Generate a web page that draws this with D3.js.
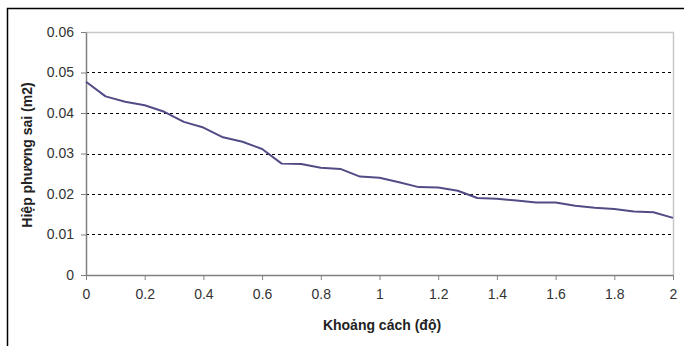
<!DOCTYPE html>
<html>
<head>
<meta charset="utf-8">
<script src="https://cdn.jsdelivr.net/npm/d3@7"></script>
<style>
  body { margin: 0; background: #fff; }
  svg { display: block; font-family: "Liberation Sans", Arial, sans-serif; }
</style>
</head>
<body>
<svg id="chart" width="684" height="346"></svg>
<script>
// data
var distances = [0, 0.0667, 0.1333, 0.2, 0.2667, 0.3333, 0.4, 0.4667, 0.5333, 0.6,
                 0.6667, 0.7333, 0.8, 0.8667, 0.9333, 1.0, 1.0667, 1.1333, 1.2, 1.2667,
                 1.3333, 1.4, 1.4667, 1.5333, 1.6, 1.6667, 1.7333, 1.8, 1.8667, 1.9333, 2.0];
var covariance = [0.0477, 0.0441, 0.0428, 0.0419, 0.0403, 0.0378, 0.0364, 0.0340, 0.0329, 0.0311,
                  0.0275, 0.0274, 0.0265, 0.0262, 0.0243, 0.0240, 0.0229, 0.0217, 0.0216, 0.0208,
                  0.0190, 0.0188, 0.0184, 0.0179, 0.0179, 0.0171, 0.0166, 0.0163, 0.0157, 0.0155, 0.0141];
var xTicks = [0, 0.2, 0.4, 0.6, 0.8, 1, 1.2, 1.4, 1.6, 1.8, 2];
var yTicks = [0, 0.01, 0.02, 0.03, 0.04, 0.05, 0.06];
var xTitle = "Khoảng cách (độ)";
var yTitle = "Hiệp phương sai (m2)";

var svg = d3.select("#chart"),
    margin = {top: 32, right: 11, bottom: 71, left: 86},
    width = +svg.attr("width") - margin.left - margin.right,
    height = +svg.attr("height") - margin.top - margin.bottom;

// outer frame (top and left only are visible)
svg.append("path")
    .attr("d", "M7.5,346V8.5H684")
    .attr("fill", "none")
    .attr("stroke", "#000")
    .attr("stroke-width", 1.5);

var x = d3.scaleLinear().domain([0, 2]).range([0, width]),
    y = d3.scaleLinear().domain([0, 0.06]).range([height, 0]);

var g = svg.append("g")
    .attr("transform", "translate(" + margin.left + "," + margin.top + ")");

// plot area border (top, right)
g.append("path")
    .attr("d", "M0,0.5H" + (width + 0.5) + "V" + height)
    .attr("fill", "none")
    .attr("stroke", "#c8c8c8")
    .attr("stroke-width", 1.5);

// dashed gridlines
g.selectAll(".grid")
    .data(yTicks.filter(function(d) { return d > 0 && d < 0.06; }))
    .enter().append("line")
    .attr("class", "grid")
    .attr("x1", 0)
    .attr("x2", width)
    .attr("y1", function(d) { return Math.round(y(d)) + 0.5; })
    .attr("y2", function(d) { return Math.round(y(d)) + 0.5; })
    .attr("stroke", "#000")
    .attr("stroke-dasharray", "3,3");

var xAxis = g.append("g")
    .attr("transform", "translate(0," + height + ")")
    .call(d3.axisBottom(x).tickValues(xTicks).tickSize(5).tickSizeOuter(0)
        .tickFormat(function(d) { return d3.format("")(d); }));

var yAxis = g.append("g")
    .call(d3.axisLeft(y).tickValues(yTicks).tickSize(5).tickSizeOuter(0)
        .tickFormat(function(d) { return d === 0 ? "0" : d3.format(".2f")(d); }));

[xAxis, yAxis].forEach(function(a) {
    a.select(".domain").attr("stroke", "#808080").attr("stroke-width", 1.5);
    a.selectAll(".tick line").attr("stroke", "#808080");
    a.selectAll("text").attr("fill", "#333").style("font-size", "14px");
});
xAxis.selectAll("text").attr("y", 14).attr("dy", "0.71em");
yAxis.selectAll("text").attr("x", -12);

var line = d3.line()
    .x(function(d, i) { return x(distances[i]); })
    .y(function(d) { return y(d); });

g.append("path")
    .datum(covariance)
    .attr("fill", "none")
    .attr("stroke", "#514c86")
    .attr("stroke-width", 2)
    .attr("stroke-linejoin", "round")
    .attr("d", line);

svg.append("text")
    .attr("x", 382)
    .attr("y", 330)
    .attr("text-anchor", "middle")
    .style("font-size", "14px")
    .style("font-weight", "bold")
    .attr("fill", "#222")
    .text(xTitle);

svg.append("text")
    .attr("transform", "translate(32,155) rotate(-90)")
    .attr("text-anchor", "middle")
    .style("font-size", "14px")
    .style("font-weight", "bold")
    .attr("fill", "#222")
    .text(yTitle);
</script>
</body>
</html>
